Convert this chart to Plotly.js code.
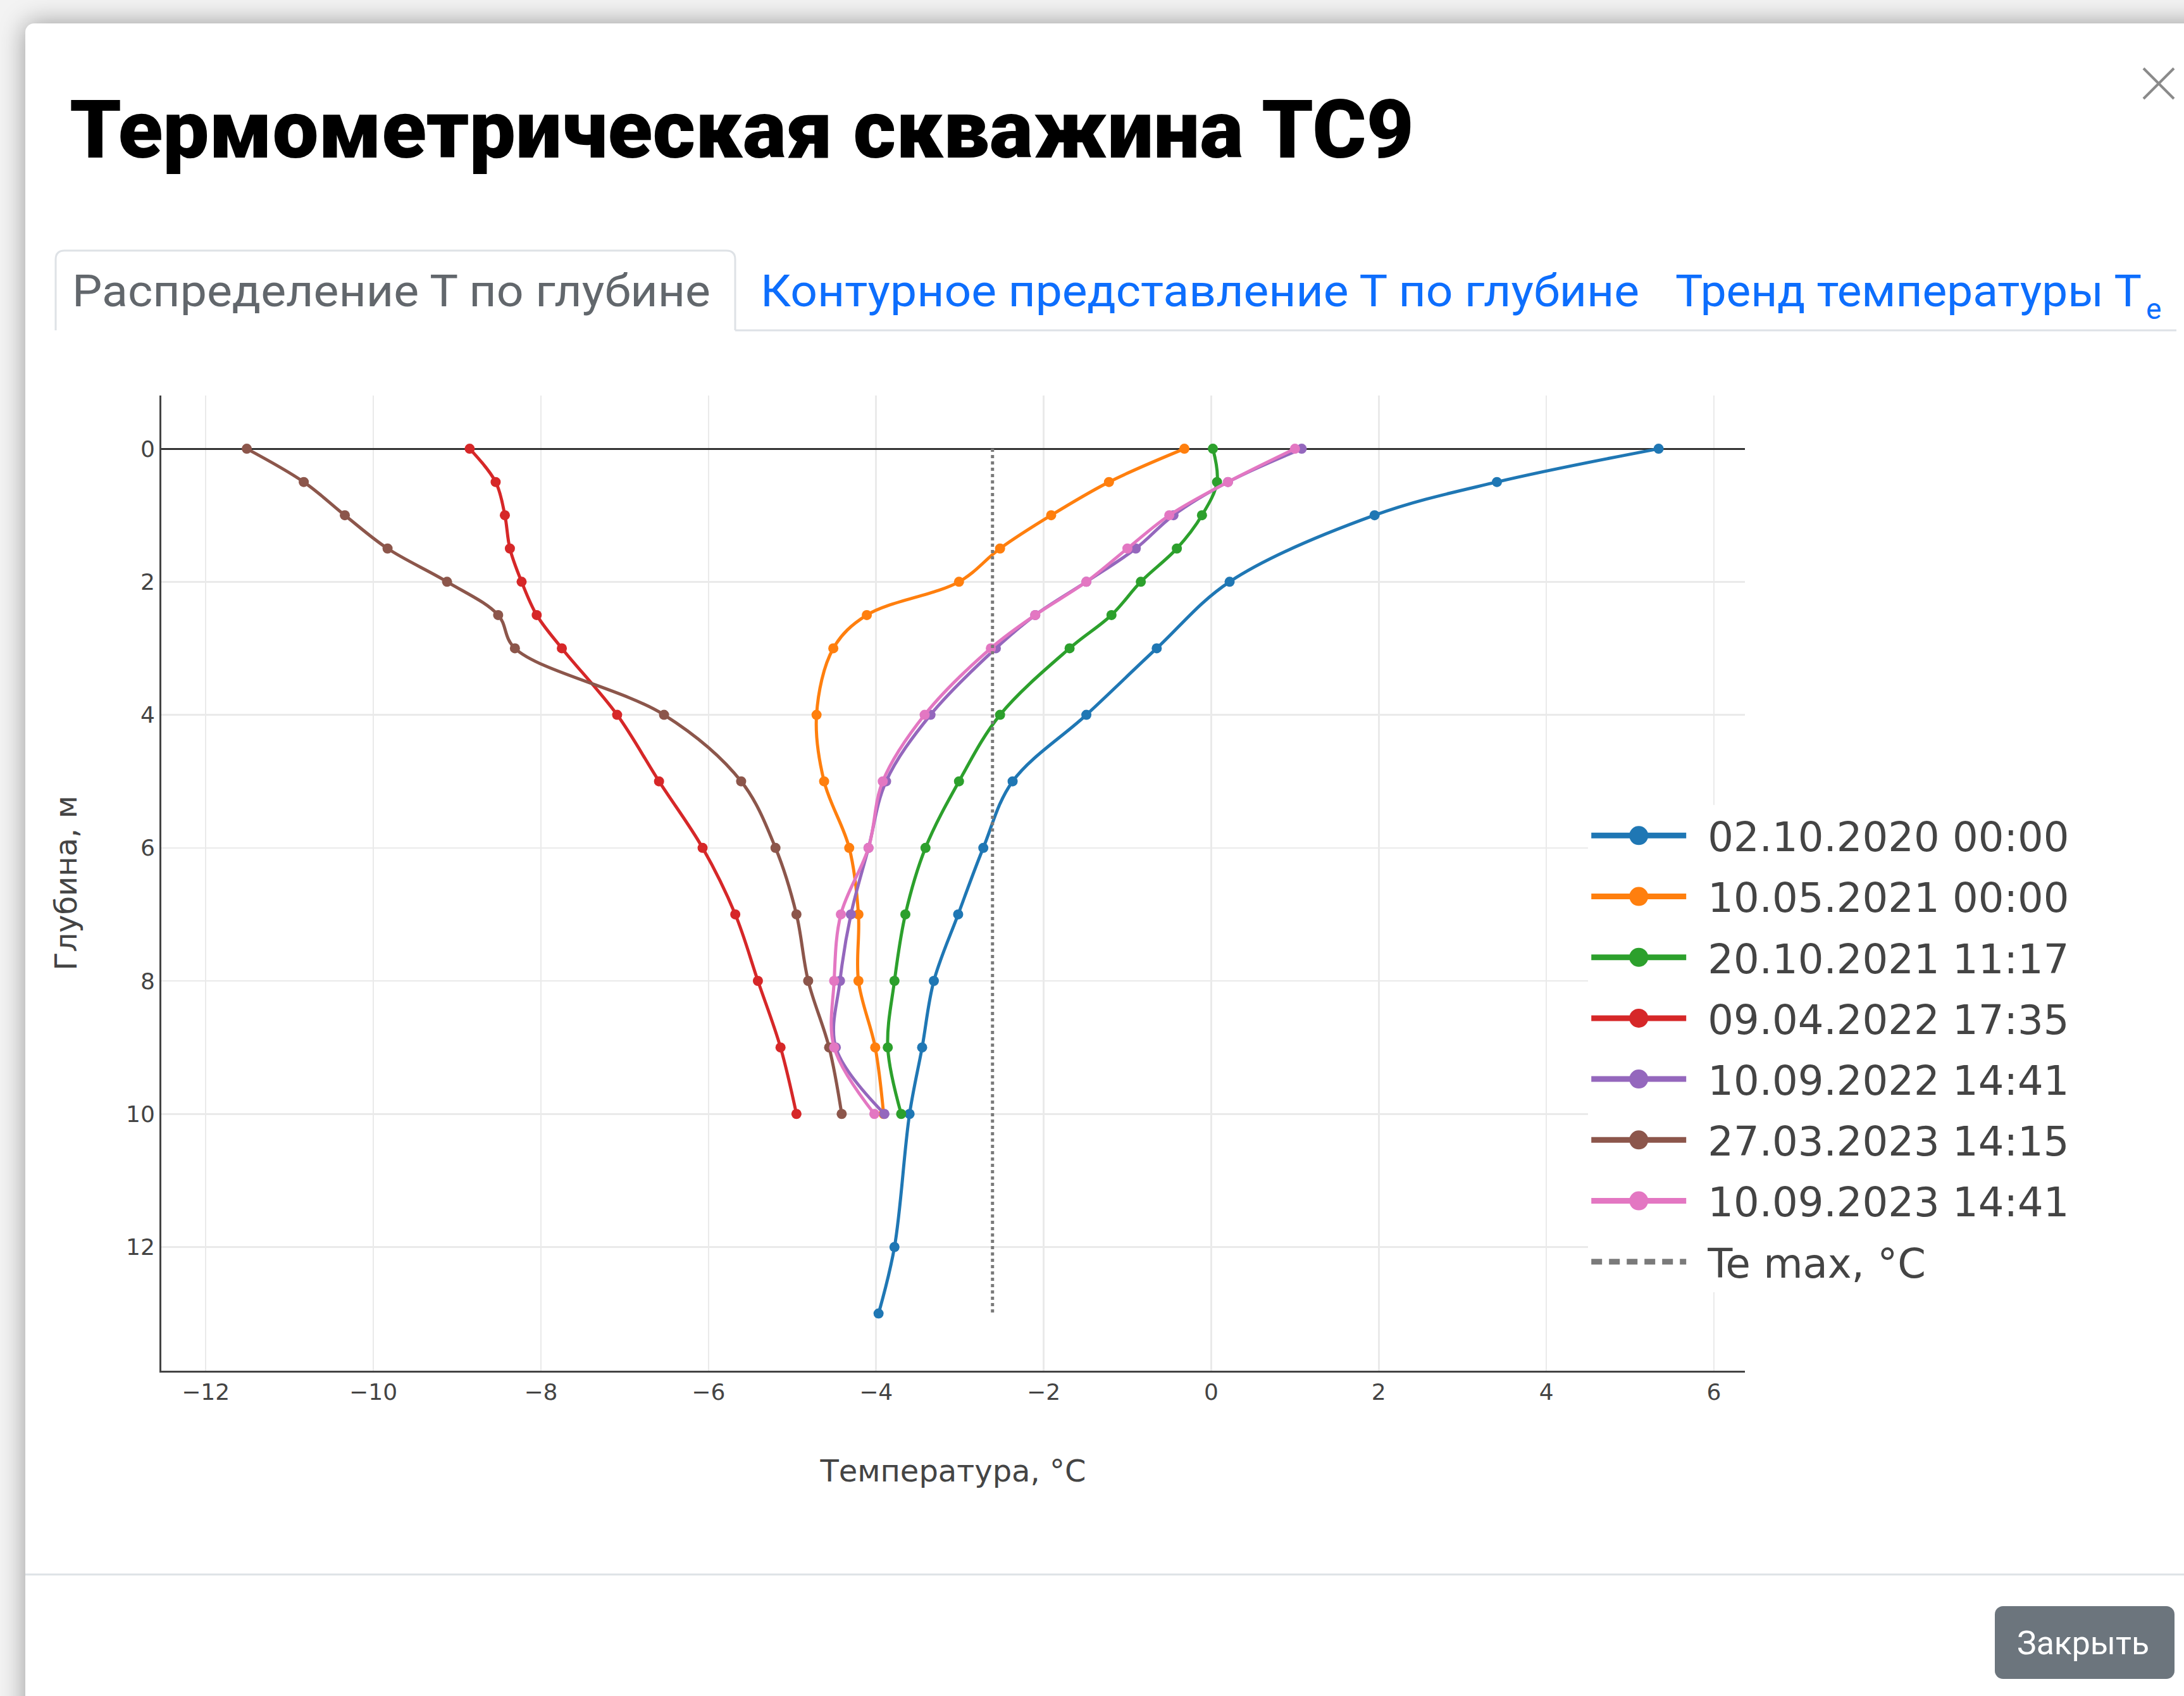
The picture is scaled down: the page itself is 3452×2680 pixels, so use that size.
<!DOCTYPE html>
<html>
<head>
<meta charset="utf-8">
<script src="https://cdn.plot.ly/plotly-3.0.1.min.js"></script>
<style>
  html, body { margin:0; padding:0; width:3452px; height:2680px; overflow:hidden; background:#f3f3f3; }
  #modal { position:absolute; left:40px; top:37px; width:3500px; height:2750px; background:#fff;
           border-radius:14px; box-shadow:0 0 40px rgba(0,0,0,0.38); }
  #chart { position:absolute; left:40px; top:540px; width:3300px; height:1900px; }
  #chrome { position:absolute; left:0; top:0; width:3452px; height:2680px; pointer-events:none; }
</style>
</head>
<body>
<div id="modal"></div>
<div id="chart"></div>
<svg id="chrome" width="3452" height="2680" xmlns="http://www.w3.org/2000/svg">
  <text x="110" y="249" font-family="Roboto, 'Noto Sans', sans-serif" font-weight="900" font-size="128"
        fill="#000" textLength="2125" lengthAdjust="spacingAndGlyphs">Термометрическая скважина ТС9</text>
  <line x1="3388" y1="108" x2="3436" y2="156" stroke="#8a8a8a" stroke-width="4"/>
  <line x1="3436" y1="108" x2="3388" y2="156" stroke="#8a8a8a" stroke-width="4"/>
  <line x1="1162" y1="522" x2="3440" y2="522" stroke="#dee2e6" stroke-width="3"/>
  <path d="M88,522 V410 Q88,396 102,396 H1148 Q1162,396 1162,410 V522" fill="#fff" stroke="#dee2e6" stroke-width="3"/>
  <text x="114" y="484" font-family="Roboto, sans-serif" font-weight="400" font-size="70" fill="#62676c"
        textLength="1009" lengthAdjust="spacingAndGlyphs">Распределение Т по глубине</text>
  <text x="1202" y="484" font-family="Roboto, sans-serif" font-weight="400" font-size="70" fill="#0d6efd"
        textLength="1389" lengthAdjust="spacingAndGlyphs">Контурное представление Т по глубине</text>
  <text x="2648" y="484" font-family="Roboto, sans-serif" font-weight="400" font-size="70" fill="#0d6efd"
        textLength="737" lengthAdjust="spacingAndGlyphs">Тренд температуры Т</text>
  <text x="3392" y="504" font-family="Roboto, sans-serif" font-weight="400" font-size="46" fill="#0d6efd">e</text>
  <line x1="40" y1="2488" x2="3452" y2="2488" stroke="#dee2e6" stroke-width="3"/>
  <rect x="3153" y="2538" width="284" height="115" rx="13" ry="13" fill="#6c757d"/>
  <text x="3188" y="2614" font-family="Roboto, sans-serif" font-weight="400" font-size="52" fill="#fff"
        textLength="209" lengthAdjust="spacingAndGlyphs">Закрыть</text>
</svg>
<script>
// ---- data (temperature, °C, by depth, m) ----
const seriesNames = ["02.10.2020 00:00","10.05.2021 00:00","20.10.2021 11:17","09.04.2022 17:35",
                     "10.09.2022 14:41","27.03.2023 14:15","10.09.2023 14:41"];
const depthBlue = [0,0.5,1,2,3,4,5,6,7,8,9,10,12,13];
const depthStd  = [0,0.5,1,1.5,2,2.5,3,4,5,6,7,8,9,10];
const tBlue   = [5.34,3.41,1.95,0.22,-0.65,-1.49,-2.37,-2.72,-3.02,-3.31,-3.45,-3.60,-3.78,-3.97];
const tOrange = [-0.32,-1.22,-1.91,-2.52,-3.01,-4.11,-4.51,-4.71,-4.62,-4.32,-4.21,-4.21,-4.01,-3.91];
const tGreen  = [0.02,0.07,-0.11,-0.41,-0.84,-1.19,-1.69,-2.52,-3.01,-3.41,-3.65,-3.78,-3.86,-3.70];
const tRed    = [-8.85,-8.54,-8.43,-8.37,-8.23,-8.05,-7.75,-7.09,-6.59,-6.07,-5.68,-5.41,-5.14,-4.95];
const tPurple = [1.08,0.20,-0.45,-0.90,-1.49,-2.10,-2.57,-3.35,-3.88,-4.09,-4.30,-4.43,-4.48,-3.90];
const tBrown  = [-11.51,-10.83,-10.34,-9.83,-9.12,-8.51,-8.31,-6.53,-5.61,-5.20,-4.95,-4.81,-4.56,-4.41];
const tPink   = [1.00,0.20,-0.50,-1.00,-1.49,-2.10,-2.63,-3.42,-3.92,-4.09,-4.42,-4.50,-4.50,-4.02];
const teMaxName = "Te max, °C";
const teMaxValue = [-2.61,-2.61];
const teMaxDepth = [0,13];
const xTitle = "Температура, °C";
const yTitle = "Глубина, м";

const colors = ["#1f77b4","#ff7f0e","#2ca02c","#d62728","#9467bd","#8c564b","#e377c2"];
const xs = [tBlue,tOrange,tGreen,tRed,tPurple,tBrown,tPink];
const ys = [depthBlue,depthStd,depthStd,depthStd,depthStd,depthStd,depthStd];

const traces = xs.map((x,i)=>({
  type:"scatter", mode:"lines+markers", name:seriesNames[i], legendgroup:"g"+i,
  x:x, y:ys[i],
  line:{color:colors[i], width:5, shape:"spline"},
  marker:{color:colors[i], size:16}
}));
traces.push({
  type:"scatter", mode:"lines", name:teMaxName, legendgroup:"gte",
  x:teMaxValue, y:teMaxDepth,
  line:{color:"#7a7a7a", width:5, dash:"dot"}
});

const F = "DejaVu Sans, Verdana, sans-serif";
const layout = {
  width:3300, height:1900,
  margin:{l:215, r:582, t:85, b:274, autoexpand:false},
  paper_bgcolor:"rgba(0,0,0,0)", plot_bgcolor:"#fff",
  font:{family:F, color:"#444"},
  showlegend:true,
  legend:{x:0.901, y:0.58, xanchor:"left", yanchor:"top", bgcolor:"#fff",
          font:{family:F, size:64, color:"#444"}, itemwidth:150, tracegroupgap:10},
  xaxis:{range:[-12.53,6.37], dtick:2, tick0:0, showgrid:true, gridcolor:"#eaeaea", gridwidth:2.5,
         zeroline:false, showline:true, linecolor:"#444", linewidth:3,
         tickfont:{family:F, size:36, color:"#444"},
         title:{text:xTitle, font:{family:F, size:48, color:"#444"}, standoff:89}},
  yaxis:{range:[13.86,-0.8], dtick:2, tick0:0, showgrid:true, gridcolor:"#eaeaea", gridwidth:2.5,
         zeroline:true, zerolinecolor:"#333", zerolinewidth:3, showline:true, linecolor:"#444", linewidth:3,
         tickfont:{family:F, size:36, color:"#444"},
         title:{text:yTitle, font:{family:F, size:48, color:"#444"}, standoff:63}}
};

Plotly.newPlot("chart", traces, layout, {staticPlot:true, displayModeBar:false}).then(gd=>{
  const shift = 29;
  const items = gd.querySelectorAll(".legend .traces");
  items.forEach((tr, i)=>{
    tr.querySelectorAll(".legendlines path").forEach(p=>{
      p.style.strokeWidth = "9px";
      if(i === items.length-1){ p.style.strokeDasharray = "17px,11px"; }
    });
    tr.querySelectorAll(".legendpoints path.scatterpts").forEach(p=>{
      p.setAttribute("d","M15,0A15,15 0 1,1 0,-15A15,15 0 0,1 15,0Z");
    });
    tr.querySelectorAll("text.legendtext").forEach(t=>{
      t.setAttribute("x", String(parseFloat(t.getAttribute("x")||"0") + shift));
    });
  });
  // widen the legend background and clip box for the shifted labels
  document.querySelectorAll("clipPath[id^='legend'] rect").forEach(r=>{
    const w = parseFloat(r.getAttribute("width")||"0");
    r.setAttribute("width", String(w + shift + 20));
  });
  gd.querySelectorAll(".legend rect.bg").forEach(r=>{
    const w = parseFloat(r.getAttribute("width")||"0");
    r.setAttribute("width", String(w + shift + 20));
  });
});
</script>
</body>
</html>
